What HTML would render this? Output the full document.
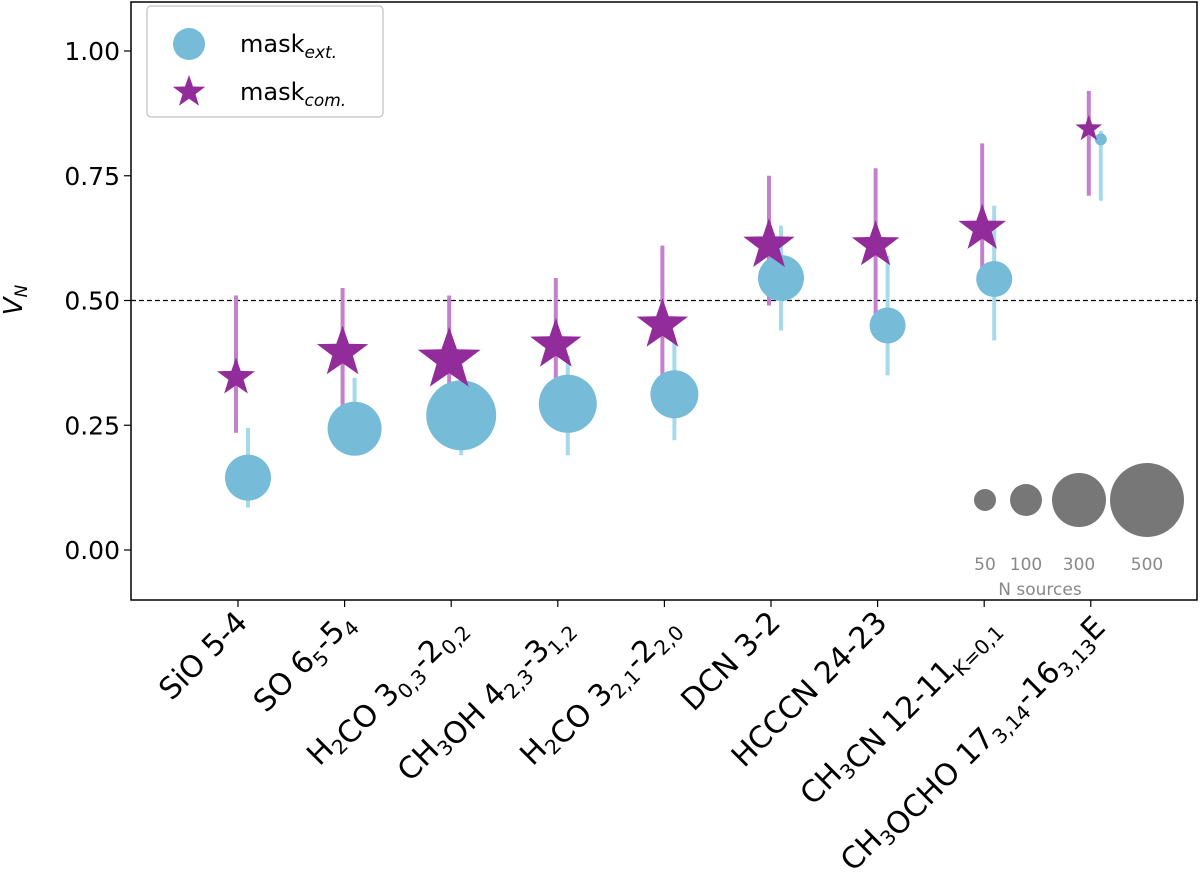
<!DOCTYPE html>
<html><head><meta charset="utf-8"><style>
body{margin:0;background:#fff}
svg{display:block;font-family:"DejaVu Sans","Liberation Sans",sans-serif}
</style></head><body>
<svg id="chart" width="1200" height="893" viewBox="0 0 1200 893">
<g id="plot"></g>
</svg>
<script>
const categories=["SiO 5-4","SO 6_5-5_4","H2CO 3_0,3-2_0,2","CH3OH 4_2,3-3_1,2","H2CO 3_2,1-2_2,0","DCN 3-2","HCCCN 24-23","CH3CN 12-11_K=0,1","CH3OCHO 17_3,14-16_3,13E"];
const extValues=[0.145,0.243,0.27,0.293,0.312,0.545,0.45,0.543,0.823];
const extLow=[0.085,0.19,0.19,0.19,0.22,0.44,0.35,0.42,0.70];
const extHigh=[0.245,0.345,0.37,0.39,0.42,0.65,0.59,0.69,0.84];
const extSize=[23,27,35,29,24,23,18,18,6];
const comValues=[0.35,0.40,0.385,0.415,0.455,0.615,0.615,0.648,0.848];
const comLow=[0.235,0.28,0.28,0.30,0.34,0.49,0.46,0.52,0.71];
const comHigh=[0.51,0.525,0.51,0.545,0.61,0.75,0.765,0.815,0.92];
const comSize=[20,27,33,27,27,27,25,25,14];
const yTicks=[0,0.25,0.5,0.75,1.0];
const yTickLabels=["0.00","0.25","0.50","0.75","1.00"];
const sizeLegendLabels=["50","100","300","500"];
const sizeLegendR=[11,16,27,37];

const L=131,R=1197,T=2,B=600;
const y=v=>550-v*499;
const x=i=>238+i*106.6;
const NS="http://www.w3.org/2000/svg";
const g=document.getElementById('plot');
function el(tag,attrs,parent){const e=document.createElementNS(NS,tag);for(const k in attrs)e.setAttribute(k,attrs[k]);(parent||g).appendChild(e);return e;}
function star(cx,cy,r){let p=[];for(let k=0;k<10;k++){const rr=k%2?r*0.4:r;const a=-Math.PI/2+k*Math.PI/5;p.push((cx+rr*Math.cos(a)).toFixed(1)+','+(cy+rr*Math.sin(a)).toFixed(1));}return p.join(' ');}

let e=el('rect',{x:L,y:T,width:R-L,height:B-T,fill:'none',stroke:'#000','stroke-width':1.5});


e=el('line',{x1:L,x2:R,y1:y(0.5),y2:y(0.5),stroke:'#000','stroke-width':1.2,'stroke-dasharray':'5,3'});



yTicks.forEach((v,i)=>{
 let t=el('line',{x1:L-7,x2:L,y1:y(v),y2:y(v),stroke:'#000','stroke-width':1.2});
 
 
 let tx=el('text',{x:L-11,y:y(v)+9,'text-anchor':'end','font-size':25});
 tx.textContent=yTickLabels[i];
 
 
});
e=el('text',{x:22,y:300,'font-size':26,'font-style':'italic','text-anchor':'middle',transform:'rotate(-90 22 300)'});
e.innerHTML='V<tspan font-size="17" dy="5">N</tspan>';



const SF=20;
function labelHTML(s){
 let parts=s.split('_');let main=parts[0];let sub=parts.slice(1);
 let h=main.replace(/^([A-Z][A-Za-z0-9]*)/,m=>m.replace(/([A-Za-z])(\d)/g,'$1<tspan font-size="'+SF+'" dy="7">$2</tspan><tspan dy="-7"></tspan>'));
 if(sub.length===1){h+='<tspan font-size="'+SF+'" dy="7">'+sub[0]+'</tspan>';}
 else if(sub.length===2){const a=sub[0].split('-');h+='<tspan font-size="'+SF+'" dy="7">'+a[0]+'</tspan><tspan dy="-7">-'+a.slice(1).join('-')+'</tspan><tspan font-size="'+SF+'" dy="7">'+sub[1].replace(/E$/,'')+'</tspan>'+(sub[1].endsWith('E')?'<tspan dy="-7">E</tspan>':'');}
 return h;
}
categories.forEach((c,i)=>{
 let t=el('line',{x1:x(i),x2:x(i),y1:B,y2:B+7,stroke:'#000','stroke-width':1.2});
 
 
 const ax=x(i)+11,ay=B+24;
 let tx=el('text',{x:ax,y:ay,'text-anchor':'end','font-size':30,transform:`rotate(-45 ${ax} ${ay})`});
 tx.innerHTML=labelHTML(c);
 
 
});

categories.forEach((c,i)=>{
 const xe=x(i)+10,xc=x(i)-2;
 let l=el('line',{x1:xe,x2:xe,y1:y(extLow[i]),y2:y(extHigh[i]),stroke:'#a6d9ea','stroke-width':4});
 
 
 let l2=el('line',{x1:xc,x2:xc,y1:y(comLow[i]),y2:y(comHigh[i]),stroke:'#c57fcc','stroke-width':4});
 
 
});
categories.forEach((c,i)=>{
 let ci=el('circle',{cx:x(i)+10,cy:y(extValues[i]),r:extSize[i],fill:'#76bcd9'});
 
 
});
categories.forEach((c,i)=>{
 let s=el('polygon',{points:star(x(i)-2,y(comValues[i])+2,comSize[i]),fill:'#932c9b'});
 
 
});

const sx=[985,1026,1079,1147];
sizeLegendR.forEach((r,i)=>{
 let c=el('circle',{cx:sx[i],cy:500,r:r,fill:'#777'});
 
 
 let t=el('text',{x:sx[i],y:570,'text-anchor':'middle','font-size':17,fill:'#888'});
 t.textContent=sizeLegendLabels[i];
 
 
});
e=el('text',{x:1040,y:595,'text-anchor':'middle','font-size':17,fill:'#888'});
e.textContent='N sources';



const lg=el('g',{});


el('rect',{x:147,y:6,width:236,height:111,rx:4,fill:'#fff',stroke:'#ccc','stroke-width':1.5},lg);
let lc=el('circle',{cx:189,cy:44,r:16,fill:'#76bcd9'},lg);


let ls=el('polygon',{points:star(189,92,17),fill:'#932c9b'},lg);


let t1=el('text',{x:240,y:52,'font-size':24},lg);
t1.innerHTML='mask<tspan font-size="17" dy="6" font-style="italic">ext.</tspan>';


let t2=el('text',{x:240,y:100,'font-size':24},lg);
t2.innerHTML='mask<tspan font-size="17" dy="6" font-style="italic">com.</tspan>';


</script>
</body></html>
